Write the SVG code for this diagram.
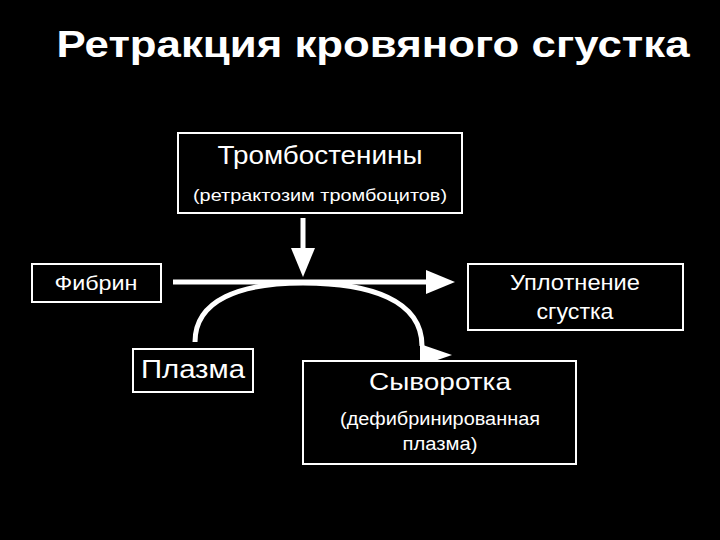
<svg xmlns="http://www.w3.org/2000/svg" width="720" height="540" viewBox="0 0 720 540">
<style>
text{font-family:"Liberation Sans",Arial,sans-serif;fill:#fff;text-anchor:middle}
.box{fill:#000;stroke:#fff;stroke-width:2}
.line{stroke:#fff;stroke-width:5;fill:none}
.head{fill:#fff}
</style>
<rect width="720" height="540" fill="#000"/>
<text x="373" y="57" font-size="36" font-weight="bold" textLength="633" lengthAdjust="spacingAndGlyphs">Ретракция кровяного сгустка</text>
<g id="connectors">
<line class="line" x1="303" y1="218" x2="303" y2="250"/>
<polygon class="head" points="291,248 315,248 303,277"/>
<line class="line" x1="173" y1="282" x2="428" y2="282"/>
<polygon class="head" points="426,270 455,282 426,294"/>
<path class="line" d="M195,342 C195,300 240,283 303,283 C370,283 422,300 422,346"/>
<polygon class="head" points="420,344 452,355 420,366"/>
</g>
<g id="trombostenin">
<rect class="box" x="178" y="133" width="284" height="80"/>
<text x="320" y="164" font-size="25" textLength="205" lengthAdjust="spacingAndGlyphs">Тромбостенины</text>
<text x="320" y="201" font-size="17" textLength="254" lengthAdjust="spacingAndGlyphs">(ретрактозим тромбоцитов)</text>
</g>
<g id="fibrin">
<rect class="box" x="32" y="264" width="129" height="38"/>
<text x="96" y="290" font-size="20" textLength="83" lengthAdjust="spacingAndGlyphs">Фибрин</text>
</g>
<g id="uplotnenie">
<rect class="box" x="468" y="264" width="215" height="66"/>
<text x="575" y="290" font-size="22" textLength="130" lengthAdjust="spacingAndGlyphs">Уплотнение</text>
<text x="575" y="319" font-size="22" textLength="77" lengthAdjust="spacingAndGlyphs">сгустка</text>
</g>
<g id="plazma">
<rect class="box" x="133" y="349" width="120" height="43"/>
<text x="193" y="378" font-size="25" textLength="104" lengthAdjust="spacingAndGlyphs">Плазма</text>
</g>
<g id="syvorotka">
<rect class="box" x="303" y="361" width="273" height="103"/>
<text x="440" y="390" font-size="24" textLength="142" lengthAdjust="spacingAndGlyphs">Сыворотка</text>
<text x="440" y="425" font-size="18" textLength="200" lengthAdjust="spacingAndGlyphs">(дефибринированная</text>
<text x="440" y="450" font-size="18" textLength="75" lengthAdjust="spacingAndGlyphs">плазма)</text>
</g>
</svg>
